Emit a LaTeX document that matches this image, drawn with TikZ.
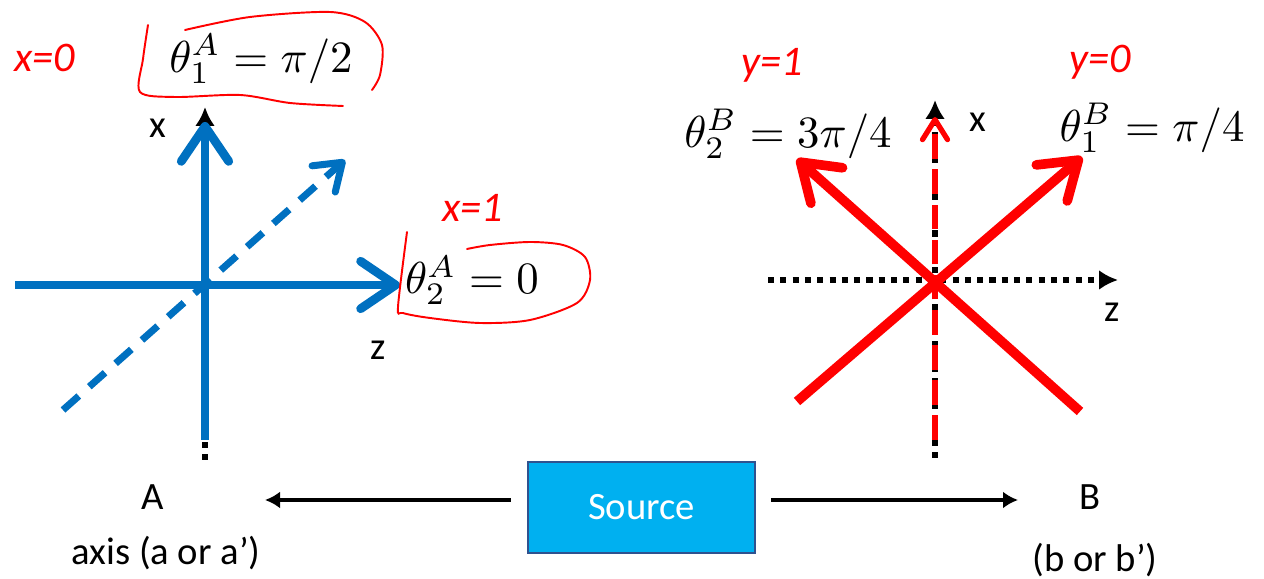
\documentclass[tikz,border=0pt]{standalone}
\usepackage{fontspec}
\setsansfont{Carlito}
\usepackage{tikz}
\usetikzlibrary{arrows.meta, positioning, calc}
\definecolor{axisBlue}{RGB}{0,112,192}
\definecolor{srcFill}{RGB}{0,176,240}
\definecolor{srcEdge}{RGB}{47,82,143}
\definecolor{inkRed}{RGB}{255,0,0}
\tikzset{
  barb/.tip={Straight Barb[length=0.7cm, width=0.95cm, round]},
  smallbarb/.tip={Straight Barb[length=0.5cm, width=0.7cm, round]},
  tinybarb/.tip={Straight Barb[length=0.4cm, width=0.5cm, round]},
  blacktip/.tip={Latex[length=0.38cm, width=0.4cm]},
}

\begin{document}
\begin{tikzpicture}[
  lbl/.style={font=\sffamily\fontsize{22}{26}\selectfont},
  mth/.style={scale=2.55, inner sep=0pt},
  ink/.style={text=inkRed, inner sep=1pt, font=\sffamily\itshape\fontsize{24}{28}\selectfont},
  loopline/.style={inkRed, line width=1.1pt, line cap=round},
  dots/.style={line width=3.5pt, dash pattern=on 3.5pt off 3.5pt},
  conn/.style={line width=2.2pt, -{Latex[length=0.3cm, width=0.34cm]}},
]
  \useasboundingbox (0,0) rectangle (25.28,11.58);

  % left picture: axes of A
  \coordinate (oA) at (4.10,5.88);
  \draw[dots, -{blacktip}] (4.10,2.38) -- (4.10,9.44);
  \draw[axisBlue, line width=4pt, dash pattern=on 12pt off 8pt, -{smallbarb}]
    (1.26,3.38) -- (6.90,8.38);
  \draw[axisBlue, line width=5pt, -{barb}] (4.10,2.78) -- (4.10,9.14);
  \draw[axisBlue, line width=5pt, -{barb}] (0.30,5.88) -- (8.00,5.88);

  \node[lbl] (xA) at (3.16,9.02) {x};
  \node[lbl] (zA) at (7.56,4.58) {z};
  \node[mth] (thA1) at (5.22,10.40) {$\theta_1^A = \pi/2$};
  \node[mth] (thA2) at (9.44,5.98) {$\theta_2^A = 0$};
  \node[ink] (xzero) at (0.90,10.42) {x=0};
  \node[ink] (xone) at (9.46,7.42) {x=1};

  % hand drawn loops
  \draw[loopline] plot[smooth] coordinates {(2.96,11.08) (2.86,10.40) (2.80,9.74)
    (3.50,9.64) (4.80,9.68) (5.80,9.52) (6.86,9.46)};
  \draw[loopline] plot[smooth] coordinates {(3.70,10.98) (5.00,11.24) (6.60,11.34)
    (7.30,11.14) (7.64,10.68) (7.60,10.08) (7.44,9.78)};
  \draw[loopline] plot[smooth] coordinates {(8.14,6.94) (7.96,5.44) (8.06,5.32)
    (8.60,5.22) (9.60,5.12) (10.60,5.18) (11.54,5.52) (11.80,5.98) (11.70,6.44)
    (11.26,6.68) (10.60,6.74) (9.80,6.68) (9.34,6.60)};

  % right picture: axes of B
  \coordinate (oB) at (18.70,5.98);
  \draw[dots, -{blacktip}] (15.36,5.98) -- (22.36,5.98);
  \draw[dots, -{blacktip}] (18.70,2.42) -- (18.70,9.58);
  \draw[inkRed, line width=3pt, dash pattern=on 14pt off 6pt, -{tinybarb}]
    (18.70,2.78) -- (18.70,9.24);
  \draw[inkRed, line width=5.5pt, -{barb}] (15.94,3.55) -- (21.64,8.44);
  \draw[inkRed, line width=5.5pt, -{barb}] (21.60,3.35) -- (15.94,8.40);

  \node[lbl] (xB) at (19.56,9.14) {x};
  \node[lbl] (zB) at (22.24,5.34) {z};
  \node[mth] (thB2) at (15.76,8.90) {$\theta_2^B = 3\pi/4$};
  \node[mth] (thB1) at (23.04,9.02) {$\theta_1^B = \pi/4$};
  \node[ink] (yone) at (15.44,10.28) {y=1};
  \node[ink] (yzero) at (22.00,10.34) {y=0};

  % source and the two sides
  \node[lbl, draw=srcEdge, line width=1.2pt, fill=srcFill, text=white,
    minimum width=4.54cm, minimum height=1.82cm] (src) at (12.83,1.43) {Source};
  \node[lbl] (nA) at (3.06,1.64) {A};
  \node[lbl] (axA) at (3.32,0.52) {axis (a or a’)};
  \node[lbl] (nB) at (21.80,1.64) {B};
  \node[lbl] (bB) at (21.90,0.38) {(b or b’)};

  \coordinate (tipA) at (5.30,1.58);
  \coordinate (tipB) at (20.36,1.58);
  \draw[conn] ($(src.west |- tipA)+(-0.32,0)$) -- (tipA);
  \draw[conn] ($(src.east |- tipB)+(0.30,0)$) -- (tipB);
\end{tikzpicture}
\end{document}
